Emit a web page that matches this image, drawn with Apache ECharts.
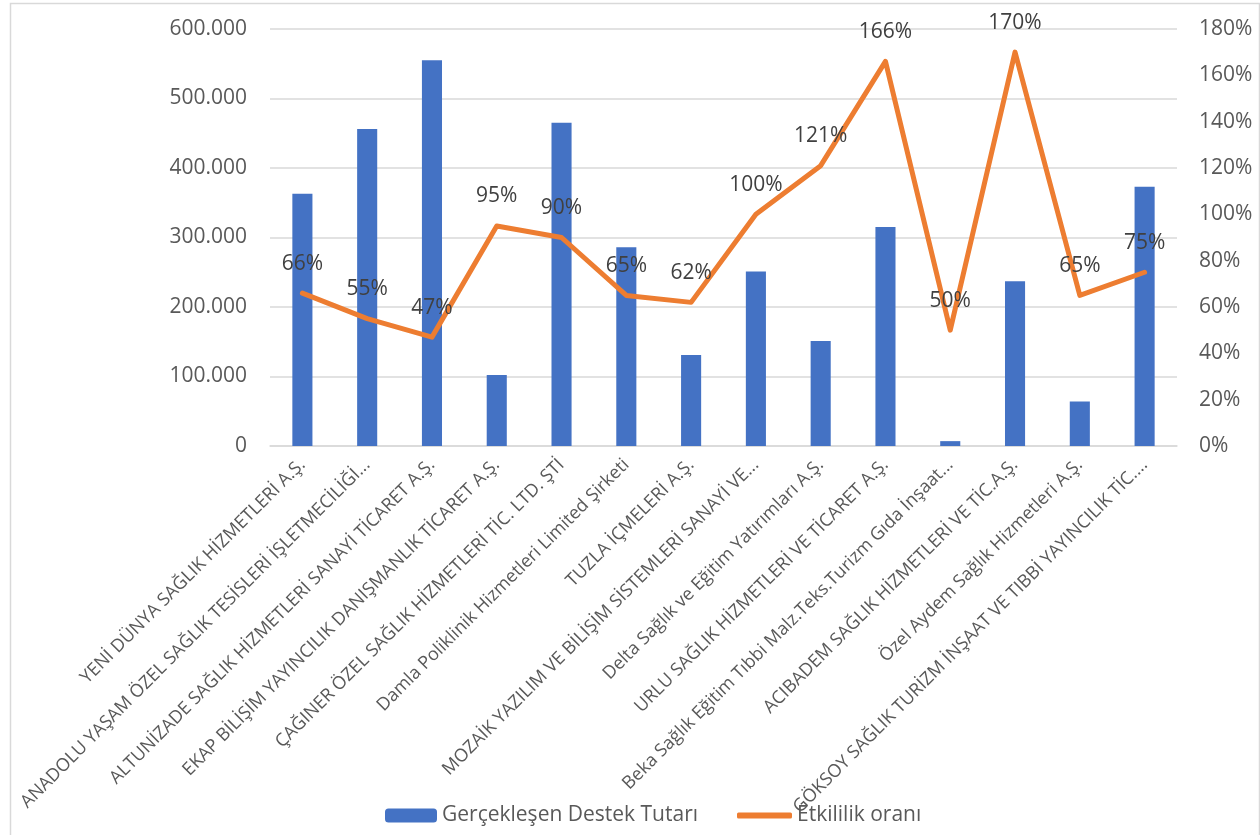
<!DOCTYPE html>
<html>
<head>
<meta charset="utf-8">
<script src="https://cdn.jsdelivr.net/npm/echarts@6/dist/echarts.min.js"></script>
<style>
html,body{margin:0;padding:0;background:#fff;}
#chart{width:1260px;height:835px;}
</style>
</head>
<body>
<div id="chart"></div>
<script>
const categories = [
  'YENİ DÜNYA SAĞLIK HİZMETLERİ A.Ş.',
  'ANADOLU YAŞAM ÖZEL SAĞLIK TESİSLERİ İŞLETMECİLİĞİ...',
  'ALTUNİZADE SAĞLIK HİZMETLERİ SANAYİ TİCARET A.Ş.',
  'EKAP BİLİŞİM YAYINCILIK DANIŞMANLIK TİCARET A.Ş.',
  'ÇAĞINER ÖZEL SAĞLIK HİZMETLERİ TİC. LTD. ŞTİ',
  'Damla Poliklinik Hizmetleri Limited Şirketi',
  'TUZLA İÇMELERİ A.Ş.',
  'MOZAİK YAZILIM VE BİLİŞİM SİSTEMLERİ SANAYİ VE...',
  'Delta Sağlık ve Eğitim Yatırımları A.Ş.',
  'URLU SAĞLIK HİZMETLERİ VE TİCARET A.Ş.',
  'Beka Sağlık Eğitim Tıbbi Malz.Teks.Turizm Gıda İnşaat...',
  'ACIBADEM SAĞLIK HİZMETLERİ VE TİC.A.Ş.',
  'Özel Aydem Sağlık Hizmetleri A.Ş.',
  'GÖKSOY SAĞLIK TURİZM İNŞAAT VE TIBBİ YAYINCILIK TİC....'
];
const supportAmount = [363000, 456000, 555000, 102000, 465000, 286000, 131000, 251000, 151000, 315000, 7000, 237000, 64000, 373000];
const effectiveness = [66, 55, 47, 95, 90, 65, 62, 100, 121, 166, 50, 170, 65, 75];
const seriesNames = ['Gerçekleşen Destek Tutarı', 'Etkililik oranı'];

const font = 'Open Sans';
const chart = echarts.init(document.getElementById('chart'));
chart.setOption({
  animation: false,
  textStyle: { fontFamily: font },
  graphic: [{
    type: 'rect', left: 8, top: 1, shape: { width: 1249, height: 850 },
    style: { fill: 'none', stroke: '#d9d9d9', lineWidth: 1.5 }, silent: true, z: -10
  }],
  grid: { left: 270, right: 83, top: 29, bottom: 389, containLabel: false },
  legend: [{
    data: [seriesNames[0]], left: 380, top: 800, itemWidth: 52, itemHeight: 14,
    textStyle: { fontSize: 21, color: '#595959', fontFamily: font }
  }, {
    data: [{ name: seriesNames[1], icon: 'roundRect' }], left: 732, top: 800, itemWidth: 55, itemHeight: 6,
    textStyle: { fontSize: 21, color: '#595959', fontFamily: font }
  }],
  xAxis: {
    type: 'category', data: categories,
    axisLine: { lineStyle: { color: '#d9d9d9', width: 1.5 } },
    axisTick: { show: false },
    axisLabel: { rotate: 45, interval: 0, fontSize: 18, color: '#595959', margin: 16, fontFamily: font }
  },
  yAxis: [{
    type: 'value', min: 0, max: 600000, interval: 100000,
    axisLabel: {
      fontSize: 21, color: '#595959', margin: 23, fontFamily: font,
      formatter: v => v === 0 ? '0' : v.toLocaleString('de-DE')
    },
    splitLine: { lineStyle: { color: '#d9d9d9', width: 1.5 } },
    axisLine: { show: false }, axisTick: { show: false }
  }, {
    type: 'value', min: 0, max: 180, interval: 20,
    axisLabel: { fontSize: 21, color: '#595959', margin: 22, formatter: '{value}%', fontFamily: font },
    splitLine: { show: false }, axisLine: { show: false }, axisTick: { show: false }
  }],
  series: [{
    name: seriesNames[0], type: 'bar', data: supportAmount, barWidth: '31%',
    itemStyle: { color: '#4472C4' }
  }, {
    name: seriesNames[1], type: 'line', yAxisIndex: 1, data: effectiveness,
    symbol: 'circle', symbolSize: 0, showSymbol: true,
    lineStyle: { color: '#ED7D31', width: 5, cap: 'round', join: 'round' },
    itemStyle: { color: '#ED7D31' },
    label: {
      show: true, position: 'top', distance: 19, formatter: '{c}%',
      fontSize: 21, color: '#404040', fontFamily: font
    },
    labelLayout: { hideOverlap: false }
  }]
});
</script>
</body>
</html>
